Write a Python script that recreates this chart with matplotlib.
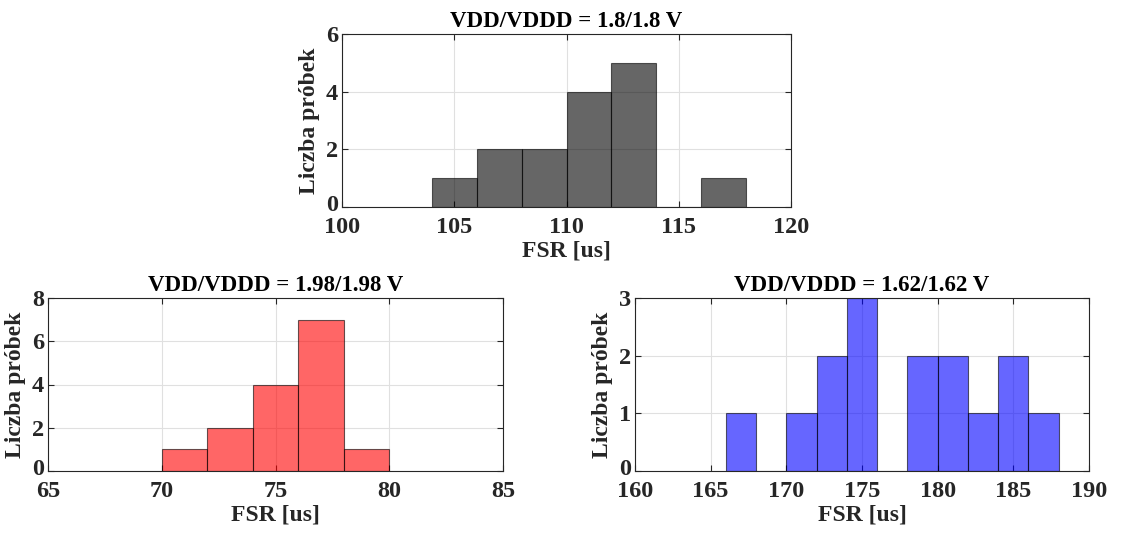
import matplotlib
matplotlib.use("Agg")
import matplotlib.pyplot as plt
import matplotlib.transforms as mtransforms
import numpy as np

plt.rcParams['font.family'] = ['Liberation Serif', 'DejaVu Serif']
plt.rcParams['font.weight'] = 'bold'
plt.rcParams['axes.labelweight'] = 'bold'
plt.rcParams['axes.titleweight'] = 'bold'

# Top: VDD/VDDD = 1.8/1.8 V
edges_18 = [104, 106, 108, 110, 112, 114, 116, 118]
counts_18 = [1, 2, 2, 4, 5, 0, 1]
xticks_18 = [100, 105, 110, 115, 120]
yticks_18 = [0, 2, 4, 6]

# Bottom left: VDD/VDDD = 1.98/1.98 V
edges_198 = [70, 72, 74, 76, 78, 80]
counts_198 = [1, 2, 4, 7, 1]
xticks_198 = [65, 70, 75, 80, 85]
yticks_198 = [0, 2, 4, 6, 8]

# Bottom right: VDD/VDDD = 1.62/1.62 V
edges_162 = [166, 168, 170, 172, 174, 176, 178, 180, 182, 184, 186, 188]
counts_162 = [1, 0, 1, 2, 3, 0, 2, 2, 1, 2, 1]
xticks_162 = [160, 165, 170, 175, 180, 185, 190]
yticks_162 = [0, 1, 2, 3]

W, H = 1126, 533
fig = plt.figure(figsize=(W/100, H/100), dpi=100)

def make_ax(l, r, t, b):
    return fig.add_axes([l/W, 1 - b/H, (r-l)/W, (b-t)/H])

def draw(ax, edges, counts, color, xticks, yticks, title):
    edges = np.array(edges, dtype=float)
    widths = np.diff(edges)
    ax.set_axisbelow(True)
    ax.grid(True, color='#e0e0e0', linewidth=0.8)
    ax.bar(edges[:-1], counts, width=widths, align='edge',
           color=color, alpha=0.6, edgecolor=(0, 0, 0, 0.2), linewidth=0.8)
    ax.set_xlim(xticks[0], xticks[-1])
    ax.set_ylim(yticks[0], yticks[-1])
    ax.set_xticks(xticks)
    ax.set_yticks(yticks)
    ax.tick_params(direction='in', top=True, right=True, labelsize=17.5,
                   length=4, width=0.8, colors='#262626', labelcolor='#262626')
    ax.tick_params(axis='x', pad=7)
    ax.tick_params(axis='y', pad=3)
    for lab in ax.get_xticklabels() + ax.get_yticklabels():
        lab.set_fontweight('bold')
    # nudge lowest y tick label up a little so it does not collide with x labels
    off = mtransforms.ScaledTranslation(0, 3 / 72, fig.dpi_scale_trans)
    lab0 = ax.get_yticklabels()[0]
    lab0.set_transform(lab0.get_transform() + off)
    for s in ax.spines.values():
        s.set_color('#262626')
        s.set_linewidth(0.8)
    ax.set_xlabel('FSR [us]', fontsize=17, color='#262626', labelpad=2)
    ax.set_ylabel('Liczba próbek', fontsize=17, color='#262626', labelpad=4)
    ax.set_title(title, fontsize=16.5, color='black', pad=5)

ax1 = make_ax(342, 791, 34, 207)
draw(ax1, edges_18, counts_18, 'black', xticks_18, yticks_18, 'VDD/VDDD = 1.8/1.8 V')

ax2 = make_ax(48, 503, 298, 471)
draw(ax2, edges_198, counts_198, 'red', xticks_198, yticks_198, 'VDD/VDDD = 1.98/1.98 V')

ax3 = make_ax(635, 1089, 298, 471)
draw(ax3, edges_162, counts_162, 'blue', xticks_162, yticks_162, 'VDD/VDDD = 1.62/1.62 V')

fig.savefig('out.png', dpi=100)
